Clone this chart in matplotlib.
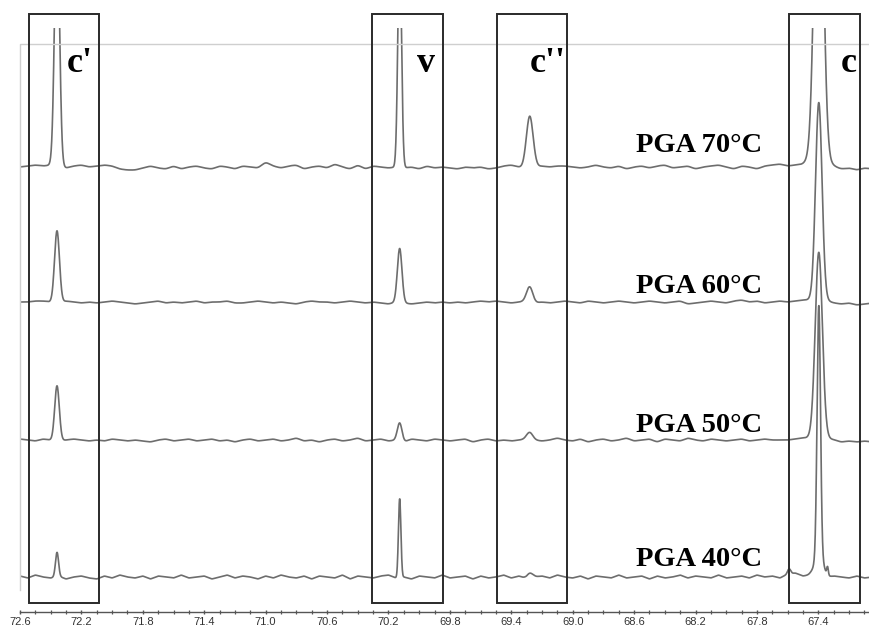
import numpy as np
import matplotlib
matplotlib.use("Agg")
import matplotlib.pyplot as plt
from matplotlib.patches import Rectangle
from matplotlib.transforms import blended_transform_factory
from matplotlib.ticker import FixedLocator

# ---------------- data ----------------
tick_values = [72.6, 72.2, 71.8, 71.4, 71.0, 70.6, 70.2, 69.8, 69.4, 69.0, 68.6, 68.2, 67.8, 67.4]
tick_labels = ["72.6", "72.2", "71.8", "71.4", "71.0", "70.6", "70.2", "69.8",
               "69.4", "69.0", "68.6", "68.2", "67.8", "67.4"]

spectra_names = ["PGA 70°C", "PGA 60°C", "PGA 50°C", "PGA 40°C"]

# peak centres (ppm): c', v, c'', c
peak_centers = [72.359, 70.127, 69.28, 67.397]
box_names = ["c'", "v", "c''", "c"]
box_edges = [(72.086, 72.541), (69.847, 70.309), (69.04, 69.496), (67.127, 67.589)]

heights_70 = [250, 220, 52, 385]
heights_60 = [72, 54, 15, 192]
heights_50 = [55, 18, 7, 177]
heights_40 = [24, 79, 5, 250]

widths_70 = [0.016, 0.012, 0.022, 0.027]
widths_60 = [0.016, 0.015, 0.020, 0.021]
widths_50 = [0.015, 0.015, 0.020, 0.023]
widths_40 = [0.010, 0.008, 0.020, 0.011]

# small extra features (centre, height, width)
extra_70 = [(67.397, 12, 0.05)]
extra_60 = [(67.397, 5, 0.04)]
extra_50 = [(67.397, 10, 0.04)]
extra_40 = [(67.395, 22, 0.028), (67.34, 8, 0.005), (67.59, 5, 0.01)]

# baseline wiggles (72.60 -> 67.05 ppm, ~0.05 ppm steps)
base_70 = [0, 1, 2, 1, 2, 0, -1, 1, 2, 0,
           1, 2, 1, -2, -3, -3, -1, 1, -1, -2,
           1, -2, 0, 1, -1, -2, 1, 0, -2, 1,
           0, -1, 5, 1, -1, 1, 2, -2, 0, 1,
           -1, 3, 0, -2, 2, -2, 1, 0, -1, 0,
           -1, 0, -2, 1, -1, 0, -1, -2, 0, -1,
           0, -2, -1, 1, 2, 0, -2, 0, 1, 0,
           1, 1, 0, -1, 0, 2, 0, -1, 1, -2,
           0, 1, -1, 1, 2, -1, 0, 1, -2, 0,
           1, 2, 0, -2, 1, 0, -2, 1, 2, 3,
           1, 2, 2, 4, 5, 0, 0, -2, -1, -3,
           -1, -2]
base_60 = [0, 0, 1, 1, 0, -1, 1, 0, -1, 0,
           -1, 0, 1, 0, -1, -2, -1, 0, 1, -1,
           0, -1, 0, 1, -1, 0, 0, 1, -1, -1,
           0, 1, 0, -1, 0, -1, -2, 0, 1, 0,
           0, -1, 0, 1, 0, -1, 0, -1, -2, 0,
           -1, -2, -1, 0, -1, 0, -1, 0, -1, 0,
           1, 0, 1, 0, -1, 0, 1, -1, 0, -1,
           0, 1, 0, -1, 1, 0, -1, 0, 1, 0,
           -1, 0, 1, 0, -1, 0, 1, -2, -1, 0,
           1, 0, -1, 1, 2, 0, 1, -1, 0, 1,
           0, 1, 2, 1, 3, 0, -1, -2, -1, -3,
           -2, -1]
base_50 = [1, 0, -1, 1, 0, -1, 0, 1, 0, -1,
           0, -1, 1, 0, -1, 0, -1, -2, 0, 1,
           -1, 0, 1, -1, 0, 1, -1, 0, -2, 0,
           1, -1, 0, 1, -1, 0, 2, -1, 0, -2,
           0, 1, -1, 0, 2, -1, 0, 1, -1, 0,
           -2, 1, 0, -1, 1, 0, -1, 0, 1, -2,
           0, 1, -1, 0, -1, 0, 1, 0, -1, 0,
           2, 0, -1, 1, -2, 0, 1, -1, 0, 2,
           -1, 0, 1, -2, 1, 0, -1, 2, 0, -1,
           1, 0, -1, 0, 1, -1, 0, 1, 0, 0,
           0, 1, 2, 0, 1, -1, 0, -2, -1, -2,
           -1, -2]
base_40 = [1, -1, 2, 0, -1, 1, -2, 0, 1, -1,
           -2, 1, -1, 2, 0, -1, 1, -2, 1, 0,
           -1, 2, -1, 0, 1, -2, 0, 2, -1, 1,
           0, -2, 1, -1, 2, 0, -1, 1, -2, 1,
           0, -1, 2, -2, 1, 0, -1, 1, 2, -1,
           0, -2, 1, 0, -1, 2, -1, 0, 1, -2,
           1, -1, 0, 2, -1, 1, -2, 0, 1, -1,
           2, 0, -1, 1, -2, 1, 0, -1, 2, -1,
           0, 1, -2, 1, -1, 0, 2, -1, 1, 0,
           -1, 2, -1, 0, 1, -1, 2, 0, 1, -1,
           3, 4, 1, 2, 0, -1, 1, 0, -1, 1,
           -1, 0]

# ---------------- layout / style ----------------
W, H = 869, 629
DPI = 100
PT = 72.0 / DPI                          # points per pixel
ax_left_px, ax_right_px, ax_top_px, ax_bot_px = 20, 869, 28, 590
axis_line_px = 612
offsets = [423, 288, 150, 13]          # vertical stacking offsets (px units)
smooth = [0.012, 0.010, 0.009, 0.004]   # drawing smoothness of baseline
label_y = [438, 297, 158, 24]
label_x = 67.764
line_color = "#6d6d6d"
box_color = "#2a2a2a"
frame_color = "#cfcfcf"

fig = plt.figure(figsize=(W / DPI, H / DPI), dpi=DPI)
ax = fig.add_axes([ax_left_px / W, (H - ax_bot_px) / H,
                   (ax_right_px - ax_left_px) / W, (ax_bot_px - ax_top_px) / H])
x_lo, x_hi = 72.6, 67.07
ax.set_xlim(x_lo, x_hi)
ax.set_ylim(0, ax_bot_px - ax_top_px)

x = np.linspace(x_lo, x_hi, 3001)
dx = abs(x[1] - x[0])

def gauss(xx, c, h, w):
    return h * np.exp(-0.5 * ((xx - c) / w) ** 2)

def smooth_baseline(vals, sig):
    xb = np.linspace(72.6, 67.05, len(vals))
    b = np.interp(x, xb[::-1], np.array(vals, float)[::-1])
    n = int(4 * sig / dx)
    k = np.exp(-0.5 * (np.arange(-n, n + 1) * dx / sig) ** 2)
    k /= k.sum()
    bp = np.pad(b, n, mode="edge")
    return np.convolve(bp, k, mode="valid")

all_h = [heights_70, heights_60, heights_50, heights_40]
all_w = [widths_70, widths_60, widths_50, widths_40]
all_e = [extra_70, extra_60, extra_50, extra_40]
all_b = [base_70, base_60, base_50, base_40]

for i in range(4):
    y = offsets[i] + smooth_baseline(all_b[i], smooth[i])
    for c, h, w in zip(peak_centers, all_h[i], all_w[i]):
        y = y + gauss(x, c, h, w)
    for c, h, w in all_e[i]:
        y = y + gauss(x, c, h, w)
    ax.plot(x, y, color=line_color, lw=1.2, solid_joinstyle="round")
    ax.text(label_x, label_y[i], spectra_names[i], ha="right", va="baseline",
            fontsize=20.5, fontweight="bold", family="Liberation Serif", color="black")

# light grey frame (top + left)
ft = (ax_bot_px - 44) / (ax_bot_px - ax_top_px)
ax.plot([0, 0, 1.01], [0, ft, ft], transform=ax.transAxes, color=frame_color,
        lw=1.0, clip_on=False)

# boxes
tr = blended_transform_factory(ax.transData, fig.transFigure)
yb0 = 1 - 603 / H
yb1 = 1 - 14 / H
for (a, b) in box_edges:
    ax.add_patch(Rectangle((a, yb0), b - a, yb1 - yb0, transform=tr, fill=False,
                           edgecolor=box_color, lw=1.4, clip_on=False, zorder=5))

box_label_x = [72.209, 69.958, 69.164, 67.205]
box_label_y = 1 - 63 / H
for name, bx in zip(box_names, box_label_x):
    ax.text(bx, box_label_y, name, transform=tr, ha="center", va="center",
            fontsize=26, fontweight="bold", family="Liberation Serif", color="black")

# axes styling
for s in ["top", "left", "right"]:
    ax.spines[s].set_visible(False)
ax.spines["bottom"].set_position(("outward", (axis_line_px - ax_bot_px) * PT))
ax.spines["bottom"].set_color("#555555")
ax.spines["bottom"].set_linewidth(1.0)
ax.set_yticks([])
ax.xaxis.set_major_locator(FixedLocator(tick_values))
ax.set_xticklabels(tick_labels)
minor = np.round(np.arange(67.1, 72.61, 0.1), 2)
ax.xaxis.set_minor_locator(FixedLocator(minor))
ax.tick_params(axis="x", which="major", direction="inout", length=5 * PT, width=1.0,
               color="#555555", labelsize=8, labelcolor="#333333", pad=1.5)
ax.tick_params(axis="x", which="minor", direction="inout", length=4 * PT, width=0.9,
               color="#555555")
for lab in ax.get_xticklabels():
    lab.set_family("Liberation Sans")

fig.savefig("out.png", dpi=DPI)
